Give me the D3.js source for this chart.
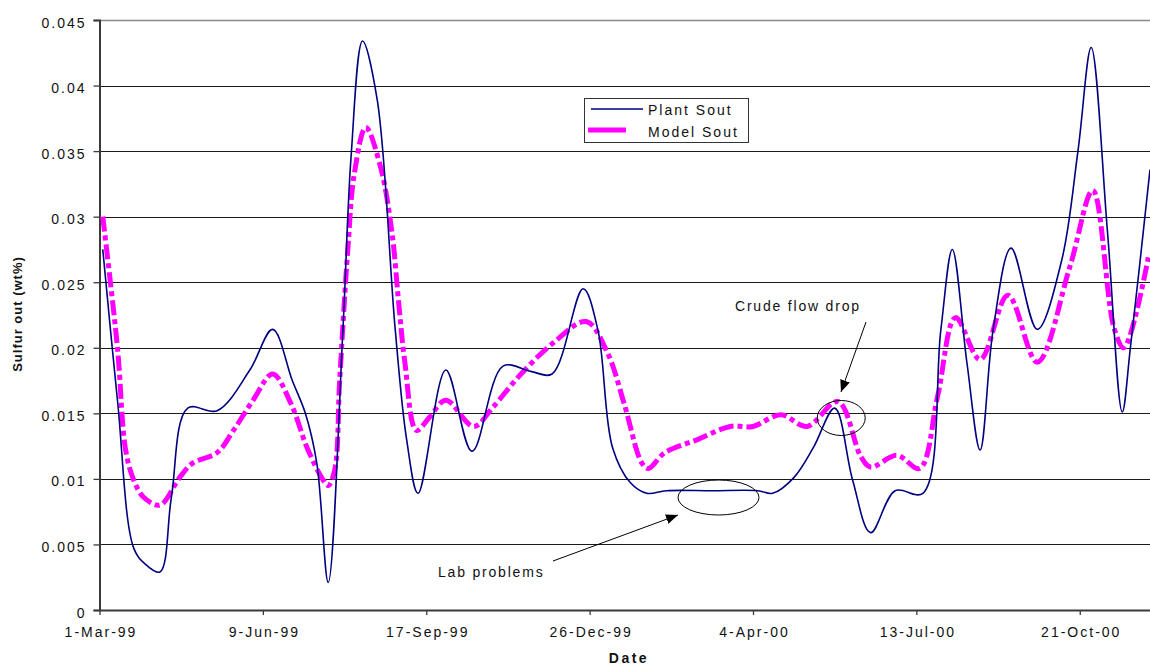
<!DOCTYPE html>
<html>
<head>
<meta charset="utf-8">
<script src="https://cdn.jsdelivr.net/npm/d3@7"></script>
<style>
  html, body { margin: 0; padding: 0; background: #fff; }
  svg { display: block; font-family: "Liberation Sans", Arial, sans-serif; }
</style>
</head>
<body>
<svg id="chart" width="1150" height="665"></svg>
<script>
// Plant and model sulfur-out measurements (wt%)
const plantDates = ["1999-03-03","1999-03-12","1999-03-22","1999-03-29","1999-04-07","1999-04-14","1999-04-24","1999-05-12","1999-06-01","1999-06-15","1999-06-27","1999-07-05","1999-07-12","1999-07-19","1999-07-28","1999-08-02","1999-08-09","1999-08-18","1999-08-29","1999-09-05","1999-09-12","1999-09-29","1999-10-15","1999-11-03","1999-11-20","1999-12-03","1999-12-22","1999-12-31","2000-01-09","2000-01-20","2000-01-30","2000-02-11","2000-03-10","2000-04-07","2000-04-16","2000-04-29","2000-05-11","2000-05-24","2000-06-04","2000-06-15","2000-06-30","2000-07-17","2000-07-28","2000-08-04","2000-08-13","2000-08-21","2000-08-29","2000-09-09","2000-09-25","2000-10-10","2000-10-20","2000-10-28","2000-11-07","2000-11-16","2000-11-21","2000-12-03"];
const plantValues = [0.0275,0.0160,0.0047,0.0035,0.0029,0.0086,0.0154,0.0152,0.0183,0.0214,0.0175,0.0150,0.0112,0.0021,0.0214,0.0346,0.0434,0.0389,0.0214,0.0130,0.0089,0.0183,0.0121,0.0186,0.0182,0.0180,0.0245,0.0214,0.0124,0.0097,0.0089,0.0091,0.0091,0.0091,0.0089,0.0101,0.0124,0.0154,0.0099,0.0059,0.0091,0.0089,0.0214,0.0275,0.0188,0.0122,0.0214,0.0276,0.0214,0.0267,0.0351,0.0429,0.0288,0.0151,0.0200,0.0336];

const modelDates = ["1999-03-03","1999-03-12","1999-03-17","1999-03-22","1999-03-28","1999-04-07","1999-04-19","1999-04-27","1999-05-12","1999-05-22","1999-06-03","1999-06-15","1999-06-26","1999-07-06","1999-07-15","1999-07-19","1999-07-23","1999-07-26","1999-07-31","1999-08-04","1999-08-11","1999-08-20","1999-08-27","1999-08-31","1999-09-04","1999-09-11","1999-09-19","1999-09-29","1999-10-16","1999-10-28","1999-11-14","1999-12-04","1999-12-24","2000-01-06","2000-01-16","2000-01-27","2000-01-31","2000-02-10","2000-03-01","2000-03-21","2000-04-04","2000-04-21","2000-05-07","2000-05-26","2000-06-09","2000-06-15","2000-07-01","2000-07-15","2000-07-26","2000-08-06","2000-08-21","2000-09-07","2000-09-25","2000-10-15","2000-10-29","2000-11-11","2000-11-17","2000-12-02"];
const modelValues = [0.0300,0.0200,0.0122,0.0099,0.0086,0.0080,0.0101,0.0112,0.0120,0.0137,0.0160,0.0180,0.0158,0.0124,0.0101,0.0095,0.0107,0.0175,0.0275,0.0333,0.0368,0.0338,0.0288,0.0236,0.0188,0.0137,0.0147,0.0160,0.0140,0.0155,0.0180,0.0204,0.0220,0.0196,0.0158,0.0112,0.0108,0.0120,0.0130,0.0140,0.0140,0.0149,0.0140,0.0159,0.0117,0.0109,0.0118,0.0108,0.0163,0.0223,0.0191,0.0240,0.0189,0.0262,0.0320,0.0215,0.0200,0.0269];

// Axis ticks
const xTickDates = ["1999-03-01","1999-06-09","1999-09-17","1999-12-26","2000-04-04","2000-07-13","2000-10-21"];
const xDomain = ["1999-03-01","2000-12-03"];
const yTicks = [0,0.005,0.01,0.015,0.02,0.025,0.03,0.035,0.04,0.045];

// Legend and annotation texts
const seriesNames = ["Plant Sout","Model Sout"];
const axisTitles = { x: "Date", y: "Sulfur out (wt%)" };
const notes = ["Crude flow drop", "Lab problems"];

const parse = d3.timeParse("%Y-%m-%d");
const fmt = d3.timeFormat("%-d-%b-%y");

const svg = d3.select("#chart");
const plotLeft = 99.5, plotRight = 1150, plotTop = 20, plotBottom = 610;

const x = d3.scaleTime().domain(xDomain.map(parse)).range([plotLeft, plotRight]);
const y = d3.scaleLinear().domain([0, 0.045]).range([plotBottom, plotTop]);

const plant = plantDates.map((d, i) => ({ date: parse(d), value: plantValues[i] }));
const model = modelDates.map((d, i) => ({ date: parse(d), value: modelValues[i] }));

// Horizontal gridlines
svg.append("g").selectAll("line").data(yTicks.filter(v => v > 0)).join("line")
  .attr("x1", plotLeft).attr("x2", plotRight)
  .attr("y1", d => Math.round(y(d)) + 0.5).attr("y2", d => Math.round(y(d)) + 0.5)
  .attr("stroke", d => d === 0.045 ? "#8a8a8a" : "#1a1a1a")
  .attr("stroke-width", d => d === 0.045 ? 1.5 : 1);

// Y axis
const yAxis = svg.append("g").attr("transform", `translate(${plotLeft},0)`)
  .call(d3.axisLeft(y).tickValues(yTicks).tickSize(6).tickPadding(9)
    .tickFormat(d => String(+d.toFixed(3))));
yAxis.select(".domain").attr("stroke", "#3a3a3a").attr("stroke-width", 2);
yAxis.selectAll(".tick line").attr("stroke", "#3a3a3a").attr("stroke-width", 1.3);
yAxis.selectAll(".tick text")
  .attr("font-family", "Liberation Sans, Arial, sans-serif")
  .attr("font-size", 14).attr("letter-spacing", 2).attr("fill", "#111")
  .attr("dx", 2).attr("dy", "0.5em");

// X axis
const xAxis = svg.append("g").attr("transform", `translate(0,${plotBottom})`)
  .call(d3.axisBottom(x).tickValues(xTickDates.map(parse)).tickSize(5).tickSizeOuter(0)
    .tickPadding(12).tickFormat(fmt));
xAxis.select(".domain").attr("stroke", "#3a3a3a").attr("stroke-width", 2);
xAxis.selectAll(".tick line").attr("stroke", "#3a3a3a").attr("stroke-width", 1.3);
xAxis.selectAll(".tick text")
  .attr("font-family", "Liberation Sans, Arial, sans-serif")
  .attr("font-size", 14).attr("letter-spacing", 2).attr("fill", "#111")
  .attr("dx", 1);

// Series lines
const line = d3.line()
  .x(d => x(d.date)).y(d => y(d.value))
  .curve(d3.curveCatmullRom.alpha(0.5));

svg.append("path").datum(model)
  .attr("d", line).attr("fill", "none")
  .attr("stroke", "#ff00ff").attr("stroke-width", 5)
  .attr("stroke-dasharray", "15,4,5,4");

svg.append("path").datum(plant)
  .attr("d", line).attr("fill", "none")
  .attr("stroke", "#000080").attr("stroke-width", 1.6);

// Legend
const lg = svg.append("g");
lg.append("rect").attr("x", 584.5).attr("y", 98.5).attr("width", 164).attr("height", 44)
  .attr("fill", "#fff").attr("stroke", "#333").attr("stroke-width", 1);
lg.append("line").attr("x1", 591).attr("x2", 643).attr("y1", 109).attr("y2", 109)
  .attr("stroke", "#000080").attr("stroke-width", 1.6);
lg.append("line").attr("x1", 588).attr("x2", 626).attr("y1", 130).attr("y2", 130)
  .attr("stroke", "#ff00ff").attr("stroke-width", 5);
lg.selectAll("text").data(seriesNames).join("text")
  .attr("x", 648).attr("y", (d, i) => 115 + i * 22)
  .attr("font-size", 14).attr("letter-spacing", 2).attr("fill", "#111")
  .text(d => d);

// Axis titles
svg.append("text").attr("x", 629).attr("y", 663).attr("text-anchor", "middle")
  .attr("font-size", 14).attr("font-weight", "bold").attr("letter-spacing", 2.5)
  .attr("fill", "#111").text(axisTitles.x);
svg.append("text").attr("transform", "translate(22,314) rotate(-90)")
  .attr("text-anchor", "middle").attr("font-size", 13).attr("font-weight", "bold")
  .attr("letter-spacing", 1).attr("fill", "#111").text(axisTitles.y);

// Annotations
const defs = svg.append("defs");
defs.append("marker").attr("id", "arrowhead").attr("viewBox", "0 0 12 10")
  .attr("refX", 12).attr("refY", 5).attr("markerWidth", 12).attr("markerHeight", 10)
  .attr("markerUnits", "userSpaceOnUse").attr("orient", "auto")
  .append("path").attr("d", "M0,0 L12,5 L0,10 Z").attr("fill", "#000");

const ann = svg.append("g").attr("fill", "none").attr("stroke", "#000").attr("stroke-width", 1);
// crude flow drop: circle around the model peak and arrow
ann.append("ellipse").attr("cx", x(parse("2000-05-28"))).attr("cy", 418).attr("rx", 24).attr("ry", 17.5);
ann.append("line").attr("x1", 866).attr("y1", 322).attr("x2", 841).attr("y2", 392)
  .attr("marker-end", "url(#arrowhead)");
// lab problems: circle around flat plant readings and arrow
ann.append("ellipse").attr("cx", 718.5).attr("cy", 497.5).attr("rx", 40.5).attr("ry", 17.5);
ann.append("line").attr("x1", 553).attr("y1", 561).attr("x2", 678).attr("y2", 515)
  .attr("marker-end", "url(#arrowhead)");

svg.append("text").attr("x", 735).attr("y", 311)
  .attr("font-size", 14).attr("letter-spacing", 1.8).attr("fill", "#111").text(notes[0]);
svg.append("text").attr("x", 438).attr("y", 577)
  .attr("font-size", 14).attr("letter-spacing", 1.8).attr("fill", "#111").text(notes[1]);
</script>
</body>
</html>
